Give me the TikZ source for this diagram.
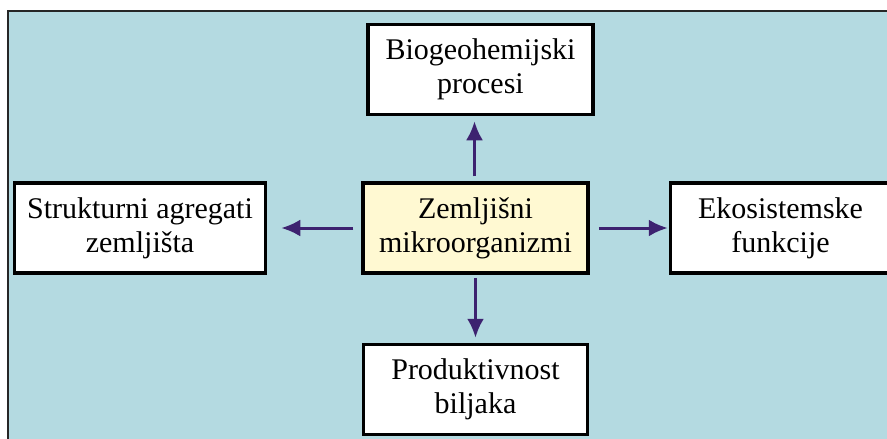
\documentclass[tikz,border=0pt]{standalone}
\usepackage{fontspec}
\setmainfont{Liberation Serif}
\usetikzlibrary{positioning,arrows.meta}

\definecolor{panelblue}{HTML}{B4DAE1}
\definecolor{coreyellow}{HTML}{FFF9D2}
\definecolor{arrowpurple}{HTML}{3D2270}

\tikzset{
  box/.style={draw=black, line width=3.5pt, fill=white, align=center,
    minimum height=90pt, inner sep=0pt,
    font=\fontsize{30}{34}\selectfont},
  core/.style={box, fill=coreyellow},
  arr/.style={-{Latex[length=19pt,width=17pt]}, line width=3pt, color=arrowpurple,
    shorten <=5pt, shorten >=5pt}
}

\begin{document}
\begin{tikzpicture}[x=1pt,y=-1pt]
  \useasboundingbox (0,0) rectangle (887,439);
  % background panel, cut off right and bottom
  \fill[panelblue] (8,11) rectangle (890,442);
  \draw[line width=2pt, color=black!85] (8,442) |- (890,11);

  \node[core, minimum width=225pt] (micro) at (475.5,228) {Zemljišni\\mikroorganizmi};
  \node[box, minimum width=225pt, above=65pt of micro, xshift=5pt] (bio) {Biogeohemijski\\procesi};
  \node[box, minimum width=251pt, left=94pt of micro] (agr) {Strukturni agregati\\zemljišta};
  \node[box, minimum width=220pt, right=79pt of micro] (eko) {Ekosistemske\\funkcije};
  \node[box, minimum width=224pt, below=68pt of micro] (prod) {Produktivnost\\biljaka};

  \draw[arr] (micro.north -| bio.south) ++(-6pt,0) coordinate (t1) -- (t1 |- bio.south);
  \draw[arr, shorten <=8pt, shorten >=14pt] (micro.west) -- (agr.east);
  \draw[arr, shorten <=9pt, shorten >=1pt] (micro.east) -- (eko.west);
  \draw[arr, shorten <=3pt] (micro) -- (prod);
\end{tikzpicture}
\end{document}
